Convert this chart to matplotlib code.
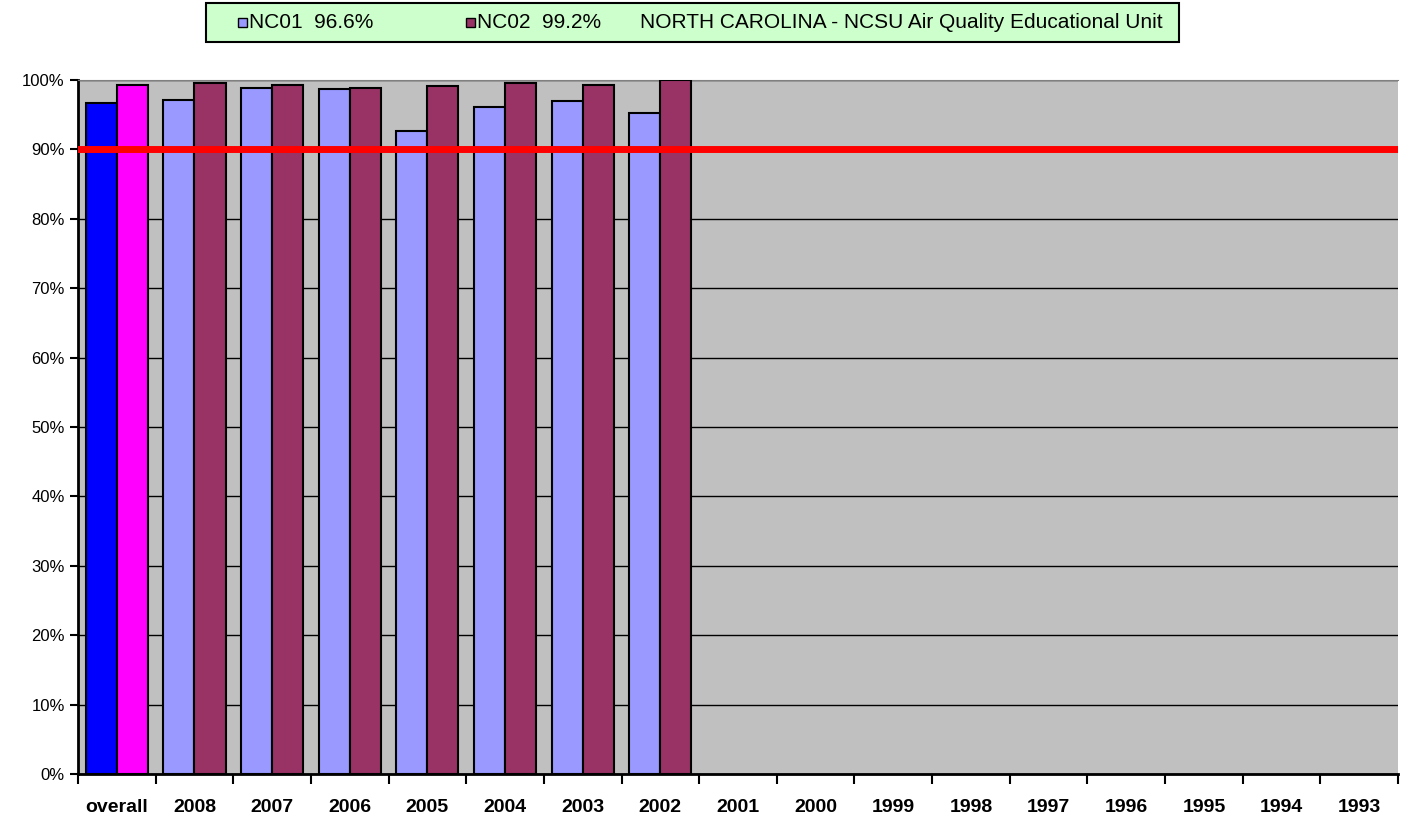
import matplotlib
matplotlib.use("Agg")
from matplotlib import pyplot as plt
from matplotlib.patches import Rectangle
import numpy as np

# data
categories = ["overall", "2008", "2007", "2006", "2005", "2004", "2003", "2002",
              "2001", "2000", "1999", "1998", "1997", "1996", "1995", "1994", "1993"]
nc01 = [96.7, 97.1, 98.9, 98.7, 92.6, 96.1, 97.0, 95.2]
nc02 = [99.3, 99.6, 99.3, 98.9, 99.2, 99.6, 99.3, 100.0]
target = 90
legend_labels = ["NC01  96.6%", "NC02  99.2%"]
title = "NORTH CAROLINA - NCSU Air Quality Educational Unit"

plt.rcParams['font.family'] = ['Liberation Sans', 'DejaVu Sans']

fig = plt.figure(figsize=(14.08, 8.18), dpi=100)
ax = fig.add_axes([78/1408, 1-774/818, (1398-78)/1408, (774-80)/818])
ax.set_facecolor("#C0C0C0")

w = 0.4
x = np.arange(len(nc01))
c1 = ["#0000FF"] + ["#9999FF"] * (len(nc01) - 1)
c2 = ["#FF00FF"] + ["#993366"] * (len(nc02) - 1)
ax.bar(x - w/2, nc01, w, color=c1, edgecolor="black", linewidth=1.5, zorder=3)
ax.bar(x + w/2, nc02, w, color=c2, edgecolor="black", linewidth=1.5, zorder=3)
ax.axhline(target, color="#FF0000", linewidth=5, zorder=4)

ax.set_xlim(-0.5, len(categories) - 0.5)
ax.set_ylim(0, 100)
ax.set_yticks(np.arange(0, 101, 10))
ax.set_yticklabels([f"{v}%" for v in range(0, 101, 10)], fontsize=12)
ax.yaxis.grid(True, color="black", linewidth=1, zorder=1)
ax.set_axisbelow(True)

ax.set_xticks(np.arange(len(categories)))
ax.set_xticklabels(categories, fontsize=14, fontweight="bold")
ax.tick_params(axis="x", length=0, pad=18)
ax.set_xticks(np.arange(len(categories) + 1) - 0.5, minor=True)
ax.tick_params(axis="x", which="minor", length=7, width=1.5, direction="out")
ax.tick_params(axis="y", length=6, width=1.5, direction="out")

for s in ["left", "bottom"]:
    ax.spines[s].set_linewidth(2)
ax.spines["top"].set_color("#808080")
ax.spines["right"].set_visible(False)

# legend box
fig.patches.append(Rectangle((206/1408, 1-42/818), (1179-206)/1408, 39/818,
                             transform=fig.transFigure, facecolor="#CCFFCC",
                             edgecolor="black", linewidth=1.5))
sw = 9
for px, col, lab in [(238, "#9999FF", legend_labels[0]), (466, "#993366", legend_labels[1])]:
    fig.patches.append(Rectangle((px/1408, 1-27/818), sw/1408, sw/818,
                                 transform=fig.transFigure, facecolor=col,
                                 edgecolor="black", linewidth=1))
    fig.text((px+11)/1408, 1-22/818, lab, fontsize=15, va="center", ha="left")
fig.text(640/1408, 1-22/818, title, fontsize=15, va="center", ha="left")

fig.savefig("out.png", dpi=100)
